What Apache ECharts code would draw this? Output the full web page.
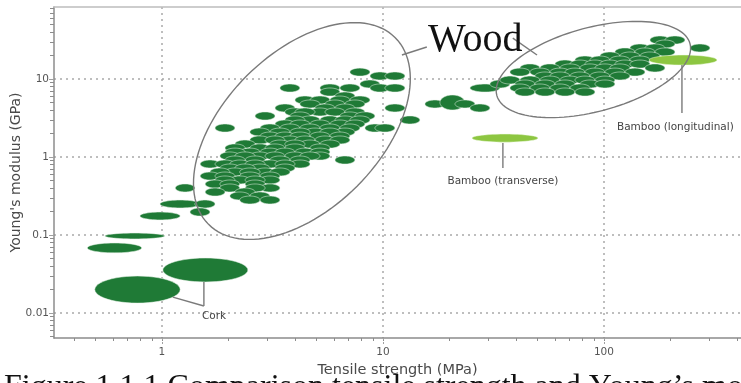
<!DOCTYPE html>
<html>
<head>
<meta charset="utf-8">
<script src="https://cdn.jsdelivr.net/npm/echarts@6/dist/echarts.min.js"></script>
<style>
  html, body { margin: 0; padding: 0; background: #ffffff; }
  #chart { width: 741px; height: 383px; }
</style>
</head>
<body>
<div id="chart"></div>
<script>
// Axis extents: tensile strength (MPa) and Young's modulus (GPa), both logarithmic
const strengthRange = [0.325, 417];
const modulusRange = [0.00478, 83.8];
const strengthTickLabels = [1, 10, 100];
const modulusTickLabels = [0.01, 0.1, 1, 10];

// Property ranges: [strength low, strength high, modulus low, modulus high]
const woodRanges = [
  [7.09, 8.74, 10.9, 13.8], [8.74, 10.76, 9.71, 12.3], [10.21, 12.58, 9.71, 12.3],
  [7.87, 9.69, 7.67, 9.71], [3.42, 4.21, 6.81, 8.63], [5.19, 6.39, 6.81, 8.63],
  [6.39, 7.87, 6.81, 8.63], [8.74, 10.76, 6.81, 8.63], [10.21, 12.58, 6.81, 8.63],
  [5.19, 6.39, 6.05, 7.67], [6.07, 7.47, 5.38, 6.81], [4.00, 4.93, 4.78, 6.05],
  [4.68, 5.76, 4.78, 6.05], [7.09, 8.74, 4.78, 6.05], [5.76, 7.09, 4.78, 6.05],
  [5.47, 6.73, 4.25, 5.38], [6.73, 8.29, 4.25, 5.38], [4.21, 5.19, 4.25, 5.38],
  [3.25, 4.00, 3.78, 4.78], [4.93, 6.07, 3.78, 4.78], [6.07, 7.47, 3.78, 4.78],
  [10.21, 12.58, 3.78, 4.78], [4.68, 5.76, 3.36, 4.25], [5.47, 6.73, 3.36, 4.25],
  [3.60, 4.44, 3.36, 4.25], [6.73, 8.29, 3.36, 4.25], [4.00, 4.93, 3.36, 4.25],
  [2.64, 3.25, 2.98, 3.78], [3.80, 4.68, 2.98, 3.78], [6.39, 7.87, 2.98, 3.78],
  [7.47, 9.20, 2.98, 3.78], [4.21, 5.19, 2.65, 3.36], [5.19, 6.39, 2.65, 3.36],
  [6.07, 7.47, 2.65, 3.36], [11.94, 14.70, 2.65, 3.36], [3.60, 4.44, 2.65, 3.36],
  [7.09, 8.74, 2.65, 3.36], [3.25, 4.00, 2.35, 2.98], [3.80, 4.68, 2.35, 2.98],
  [4.68, 5.76, 2.35, 2.98], [5.76, 7.09, 2.35, 2.98], [6.73, 8.29, 2.35, 2.98],
  [1.74, 2.14, 2.09, 2.65], [2.78, 3.42, 2.09, 2.65], [3.42, 4.21, 2.09, 2.65],
  [4.21, 5.19, 2.09, 2.65], [5.19, 6.39, 2.09, 2.65], [8.29, 10.21, 2.09, 2.65],
  [9.20, 11.33, 2.09, 2.65], [6.39, 7.87, 2.09, 2.65], [4.44, 5.47, 1.86, 2.35],
  [6.07, 7.47, 1.86, 2.35], [3.08, 3.80, 1.86, 2.35], [5.19, 6.39, 1.86, 2.35],
  [2.50, 3.08, 1.86, 2.35], [3.80, 4.68, 1.86, 2.35], [2.78, 3.42, 1.65, 2.09],
  [3.25, 4.00, 1.65, 2.09], [3.80, 4.68, 1.65, 2.09], [4.68, 5.76, 1.65, 2.09],
  [5.76, 7.09, 1.65, 2.09], [2.50, 3.08, 1.47, 1.86], [3.42, 4.21, 1.47, 1.86],
  [4.00, 4.93, 1.47, 1.86], [4.93, 6.07, 1.47, 1.86], [2.93, 3.60, 1.47, 1.86],
  [5.76, 7.09, 1.47, 1.86], [3.08, 3.80, 1.30, 1.65], [4.21, 5.19, 1.30, 1.65],
  [2.14, 2.64, 1.30, 1.65], [3.60, 4.44, 1.30, 1.65], [5.19, 6.39, 1.30, 1.65],
  [1.93, 2.38, 1.16, 1.47], [2.50, 3.08, 1.16, 1.47], [3.60, 4.44, 1.16, 1.47],
  [4.68, 5.76, 1.16, 1.47], [2.93, 3.60, 1.16, 1.47], [2.25, 2.78, 1.03, 1.30],
  [2.78, 3.42, 1.03, 1.30], [3.25, 4.00, 1.03, 1.30], [4.00, 4.93, 1.03, 1.30],
  [1.93, 2.38, 1.03, 1.30], [4.68, 5.76, 1.03, 1.30], [1.83, 2.25, 0.915, 1.16],
  [2.50, 3.08, 0.915, 1.16], [3.60, 4.44, 0.915, 1.16], [4.68, 5.76, 0.915, 1.16],
  [2.14, 2.64, 0.915, 1.16], [2.93, 3.60, 0.915, 1.16], [4.21, 5.19, 0.915, 1.16],
  [2.38, 2.93, 0.813, 1.03], [3.08, 3.80, 0.813, 1.03], [6.07, 7.47, 0.813, 1.03],
  [1.93, 2.38, 0.813, 1.03], [3.80, 4.68, 0.813, 1.03], [1.49, 1.83, 0.723, 0.915],
  [1.74, 2.14, 0.723, 0.915], [2.03, 2.50, 0.723, 0.915], [2.78, 3.42, 0.723, 0.915],
  [3.80, 4.68, 0.723, 0.915], [2.38, 2.93, 0.723, 0.915], [3.25, 4.00, 0.723, 0.915],
  [2.50, 3.08, 0.642, 0.813], [3.25, 4.00, 0.642, 0.813], [1.83, 2.25, 0.642, 0.813],
  [2.14, 2.64, 0.642, 0.813], [1.93, 2.38, 0.571, 0.723], [2.64, 3.25, 0.571, 0.723],
  [3.08, 3.80, 0.571, 0.723], [1.65, 2.03, 0.571, 0.723], [2.25, 2.78, 0.571, 0.723],
  [1.49, 1.83, 0.507, 0.642], [1.74, 2.14, 0.507, 0.642], [2.25, 2.78, 0.507, 0.642],
  [2.78, 3.42, 0.507, 0.642], [2.03, 2.50, 0.451, 0.571], [2.78, 3.42, 0.451, 0.571],
  [1.74, 2.14, 0.451, 0.571], [2.38, 2.93, 0.451, 0.571], [1.57, 1.93, 0.400, 0.507],
  [1.83, 2.25, 0.400, 0.507], [2.38, 2.93, 0.400, 0.507], [1.15, 1.41, 0.356, 0.451],
  [2.78, 3.42, 0.356, 0.451], [1.83, 2.25, 0.356, 0.451], [2.38, 2.93, 0.356, 0.451],
  [1.57, 1.93, 0.316, 0.400], [2.14, 2.64, 0.316, 0.400], [2.50, 3.08, 0.281, 0.356],
  [2.03, 2.50, 0.281, 0.356], [2.25, 2.78, 0.250, 0.316], [2.78, 3.42, 0.250, 0.316],
  [0.98, 1.49, 0.222, 0.281], [1.41, 1.74, 0.222, 0.281], [1.34, 1.65, 0.175, 0.222],
  [0.795, 1.21, 0.156, 0.197], [0.552, 1.03, 0.089, 0.106], [0.46, 0.81, 0.059, 0.079],
  [15.49, 19.08, 4.25, 5.38], [18.11, 23.50, 4.01, 6.23], [21.18, 26.08, 4.25, 5.38],
  [24.76, 30.49, 3.78, 4.78], [24.76, 33.84, 6.81, 8.63], [30.49, 37.56, 7.67, 9.71],
  [161.5, 198.9, 28.1, 35.6], [188.8, 232.6, 28.1, 35.6], [170.2, 209.6, 25.0, 31.6],
  [131.1, 161.5, 22.2, 28.1], [153.3, 188.8, 22.2, 28.1], [245.0, 301.8, 22.2, 28.1],
  [112.1, 138.1, 19.7, 25.0], [138.1, 170.2, 19.7, 25.0], [170.2, 209.6, 19.7, 25.0],
  [95.9, 118.1, 17.5, 22.2], [118.1, 145.6, 17.5, 22.2], [145.6, 179.2, 17.5, 22.2],
  [73.95, 91.07, 15.6, 19.7], [86.45, 106.4, 15.6, 19.7], [106.4, 131.1, 15.6, 19.7],
  [131.1, 161.5, 15.6, 19.7], [60.04, 73.95, 13.8, 17.5], [70.20, 86.45, 13.8, 17.5],
  [82.04, 101.0, 13.8, 17.5], [95.9, 118.1, 13.8, 17.5], [112.1, 138.1, 13.8, 17.5],
  [131.1, 161.5, 13.8, 17.5], [41.69, 51.35, 12.3, 15.6], [51.35, 63.25, 12.3, 15.6],
  [63.25, 77.91, 12.3, 15.6], [77.91, 95.92, 12.3, 15.6], [91.07, 112.1, 12.3, 15.6],
  [106.4, 131.1, 12.3, 15.6], [153.3, 188.8, 12.3, 15.6], [37.56, 46.27, 10.9, 13.8],
  [46.27, 56.99, 10.9, 13.8], [56.99, 70.20, 10.9, 13.8], [66.63, 82.04, 10.9, 13.8],
  [82.04, 101.0, 10.9, 13.8], [101.0, 124.5, 10.9, 13.8], [124.5, 153.3, 10.9, 13.8],
  [48.74, 60.04, 9.71, 12.3], [56.99, 70.20, 9.71, 12.3], [70.20, 86.45, 9.71, 12.3],
  [86.45, 106.4, 9.71, 12.3], [106.4, 131.1, 9.71, 12.3], [33.84, 41.69, 8.63, 10.9],
  [41.69, 51.35, 8.63, 10.9], [51.35, 63.25, 8.63, 10.9], [63.25, 77.91, 8.63, 10.9],
  [73.95, 91.07, 8.63, 10.9], [91.07, 112.1, 8.63, 10.9], [39.57, 48.74, 7.67, 9.71],
  [48.74, 60.04, 7.67, 9.71], [60.04, 73.95, 7.67, 9.71], [77.91, 95.92, 7.67, 9.71],
  [91.07, 112.1, 7.67, 9.71], [37.56, 46.27, 6.81, 8.63], [46.27, 56.99, 6.81, 8.63],
  [56.99, 70.20, 6.81, 8.63], [70.20, 86.45, 6.81, 8.63], [39.57, 48.74, 6.05, 7.67],
  [48.74, 60.04, 6.05, 7.67], [60.04, 73.95, 6.05, 7.67], [73.95, 91.07, 6.05, 7.67]
];
const corkRanges = [
  [0.497, 1.21, 0.0134, 0.0298],
  [1.01, 2.45, 0.0250, 0.0507]
];
const bambooRanges = [
  [25.3, 50.3, 1.55, 1.97],
  [160, 325, 15.1, 20.3]
];

// Annotation anchors in data units [MPa, GPa]
const woodGroups = [
  { center: [4.30, 2.154], semiAxes: [132, 78], angle: 45 },
  { center: [89.6, 13.24], semiAxes: [100, 42], angle: 15 }
];
const woodLeaders = [
  [[15.8, 25.7], [12.19, 20.3]],
  [[38.7, 33.5], [49.8, 20.3]]
];
const corkLeaders = [
  [[1.121, 0.0160], [1.549, 0.0123]],
  [[1.549, 0.0250], [1.549, 0.0123]]
];
const bambooLeaders = [
  [[34.9, 1.512], [34.9, 0.723]],
  [[225.4, 15.1], [225.4, 3.67]]
];
const textLabels = [
  { text: 'Wood', at: [16.0, 31.6], align: 'left', font: '40px "Liberation Serif"', color: '#111' },
  { text: 'Cork', at: [1.517, 0.00915], align: 'left', font: '10.5px "DejaVu Sans"', color: '#444' },
  { text: 'Bamboo (transverse)', at: [34.9, 0.492], align: 'center', font: '10.5px "DejaVu Sans"', color: '#444' },
  { text: 'Bamboo (longitudinal)', at: [114.5, 2.42], align: 'left', font: '10.5px "DejaVu Sans"', color: '#444' }
];
const caption = 'Figure 1.1.1 Comparison tensile strength and Young\u2019s modulus of wood';

const L = Math.log10;
const WOOD_GREEN = '#1f7a36';
const BAMBOO_GREEN = '#8dc641';

function logTicks(range) {
  const out = [];
  for (let n = Math.floor(L(range[0])); n <= Math.ceil(L(range[1])); n++) {
    for (let k = 1; k <= 9; k++) {
      const v = k * Math.pow(10, n);
      if (v >= range[0] && v <= range[1]) out.push(L(v));
    }
  }
  return out;
}
function powLabel(v) {
  return String(parseFloat(Math.pow(10, v).toPrecision(6)));
}

function ellipseSeries(name, ranges, fill, stroke, z) {
  return {
    type: 'custom',
    name: name,
    z: z,
    clip: true,
    silent: true,
    data: ranges.map(r => [L(r[0]), L(r[1]), L(r[2]), L(r[3])]),
    encode: { x: [0, 1], y: [2, 3] },
    renderItem: function (params, api) {
      const p = api.coord([api.value(0), api.value(2)]);
      const q = api.coord([api.value(1), api.value(3)]);
      const cx = (p[0] + q[0]) / 2, cy = (p[1] + q[1]) / 2;
      const rx = Math.abs(q[0] - p[0]) / 2, ry = Math.abs(q[1] - p[1]) / 2;
      const pts = [];
      for (let i = 0; i < 48; i++) {
        const t = i / 48 * Math.PI * 2;
        pts.push([cx + rx * Math.cos(t), cy + ry * Math.sin(t)]);
      }
      return { type: 'polygon', shape: { points: pts }, style: { fill: fill, stroke: stroke, lineWidth: 0.8 } };
    }
  };
}

const xr = [L(strengthRange[0]), L(strengthRange[1])];
const yr = [L(modulusRange[0]), L(modulusRange[1])];
const labelFont = { fontFamily: 'DejaVu Sans', fontSize: 10.5, color: '#555' };
const gridDots = { color: '#a9a9a9', width: 1.5, type: [2, 4] };

const chart = echarts.init(document.getElementById('chart'), null, { renderer: 'canvas' });
chart.setOption({
  backgroundColor: '#ffffff',
  animation: false,
  grid: { left: 54, right: 0, top: 7, bottom: 45, containLabel: false, outerBoundsMode: 'none' },
  xAxis: [
    {
      type: 'value', position: 'bottom', min: xr[0], max: xr[1],
      name: 'Tensile strength (MPa)', nameLocation: 'middle', nameGap: 22,
      nameTextStyle: { fontFamily: 'DejaVu Sans', fontSize: 14.5, color: '#4a4a4a' },
      axisLine: { show: true, onZero: false, lineStyle: { color: '#8c8c8c', width: 1.5 } },
      axisTick: { show: true, customValues: logTicks(strengthRange), length: 3, lineStyle: { color: '#8c8c8c' } },
      axisLabel: Object.assign({ customValues: strengthTickLabels.map(L), formatter: powLabel, margin: 9 }, labelFont),
      splitLine: { show: false }
    },
    {
      type: 'value', position: 'bottom', min: xr[0], max: xr[1],
      axisLine: { show: false, onZero: false },
      axisTick: { show: true, customValues: strengthTickLabels.map(L), length: 7, lineStyle: { color: '#a0a0a0', type: [2, 2] } },
      axisLabel: { show: false },
      splitLine: { show: true, lineStyle: gridDots }
    },
    {
      type: 'value', position: 'top', min: xr[0], max: xr[1],
      axisLine: { show: true, onZero: false, lineStyle: { color: '#bdbdbd', width: 1.5 } },
      axisTick: { show: false }, axisLabel: { show: false }, splitLine: { show: false }
    }
  ],
  yAxis: [
    {
      type: 'value', position: 'left', min: yr[0], max: yr[1],
      name: 'Young\'s modulus (GPa)', nameLocation: 'middle', nameGap: 31, nameMoveOverlap: false,
      nameTextStyle: { fontFamily: 'DejaVu Sans', fontSize: 14, color: '#4a4a4a' },
      axisLine: { show: true, onZero: false, lineStyle: { color: '#8c8c8c', width: 1.5 } },
      axisTick: { show: true, customValues: logTicks(modulusRange), length: 4, lineStyle: { color: '#8c8c8c' } },
      axisLabel: Object.assign({ customValues: modulusTickLabels.map(L), formatter: powLabel, margin: 5 }, labelFont),
      splitLine: { show: false }
    },
    {
      type: 'value', position: 'left', min: yr[0], max: yr[1],
      axisLine: { show: false, onZero: false },
      axisTick: { show: true, customValues: modulusTickLabels.map(L), length: 5, lineStyle: { color: '#a0a0a0' } },
      axisLabel: { show: false },
      splitLine: { show: true, lineStyle: gridDots }
    }
  ],
  series: [
    ellipseSeries('Wood', woodRanges, WOOD_GREEN, 'rgba(235,245,235,0.65)', 2),
    ellipseSeries('Cork', corkRanges, WOOD_GREEN, 'rgba(235,245,235,0.65)', 2),
    ellipseSeries('Bamboo', bambooRanges, BAMBOO_GREEN, 'rgba(240,250,230,0.6)', 3)
  ]
});

// Annotations placed through the axes' own data-to-pixel conversion
function px(pt) {
  return chart.convertToPixel({ xAxisIndex: 0, yAxisIndex: 0 }, [L(pt[0]), L(pt[1])]);
}
const graphics = [];
woodGroups.forEach(g => {
  const c = px(g.center);
  const a = g.semiAxes[0], b = g.semiAxes[1], th = g.angle * Math.PI / 180;
  const pts = [];
  for (let i = 0; i < 120; i++) {
    const t = i / 120 * Math.PI * 2;
    pts.push([
      c[0] + a * Math.cos(t) * Math.cos(th) + b * Math.sin(t) * Math.sin(th),
      c[1] - a * Math.cos(t) * Math.sin(th) + b * Math.sin(t) * Math.cos(th)
    ]);
  }
  graphics.push({ type: 'polygon', z: 10, silent: true, shape: { points: pts },
    style: { fill: 'none', stroke: '#7a7a7a', lineWidth: 1.4 } });
});
woodLeaders.concat(corkLeaders, bambooLeaders).forEach(seg => {
  const p = px(seg[0]), q = px(seg[1]);
  graphics.push({ type: 'line', z: 10, silent: true,
    shape: { x1: p[0], y1: p[1], x2: q[0], y2: q[1] },
    style: { stroke: '#7a7a7a', lineWidth: 1.4 } });
});
textLabels.forEach(t => {
  const p = px(t.at);
  graphics.push({ type: 'text', z: 11, silent: true, x: p[0], y: p[1],
    style: { text: t.text, font: t.font, fill: t.color, align: t.align, verticalAlign: 'middle' } });
});
graphics.push({ type: 'text', z: 11, silent: true, x: 4, y: 372,
  style: { text: caption, font: '32px "Liberation Serif"', fill: '#111', align: 'left', verticalAlign: 'top' } });
chart.setOption({ graphic: graphics });
</script>
</body>
</html>
